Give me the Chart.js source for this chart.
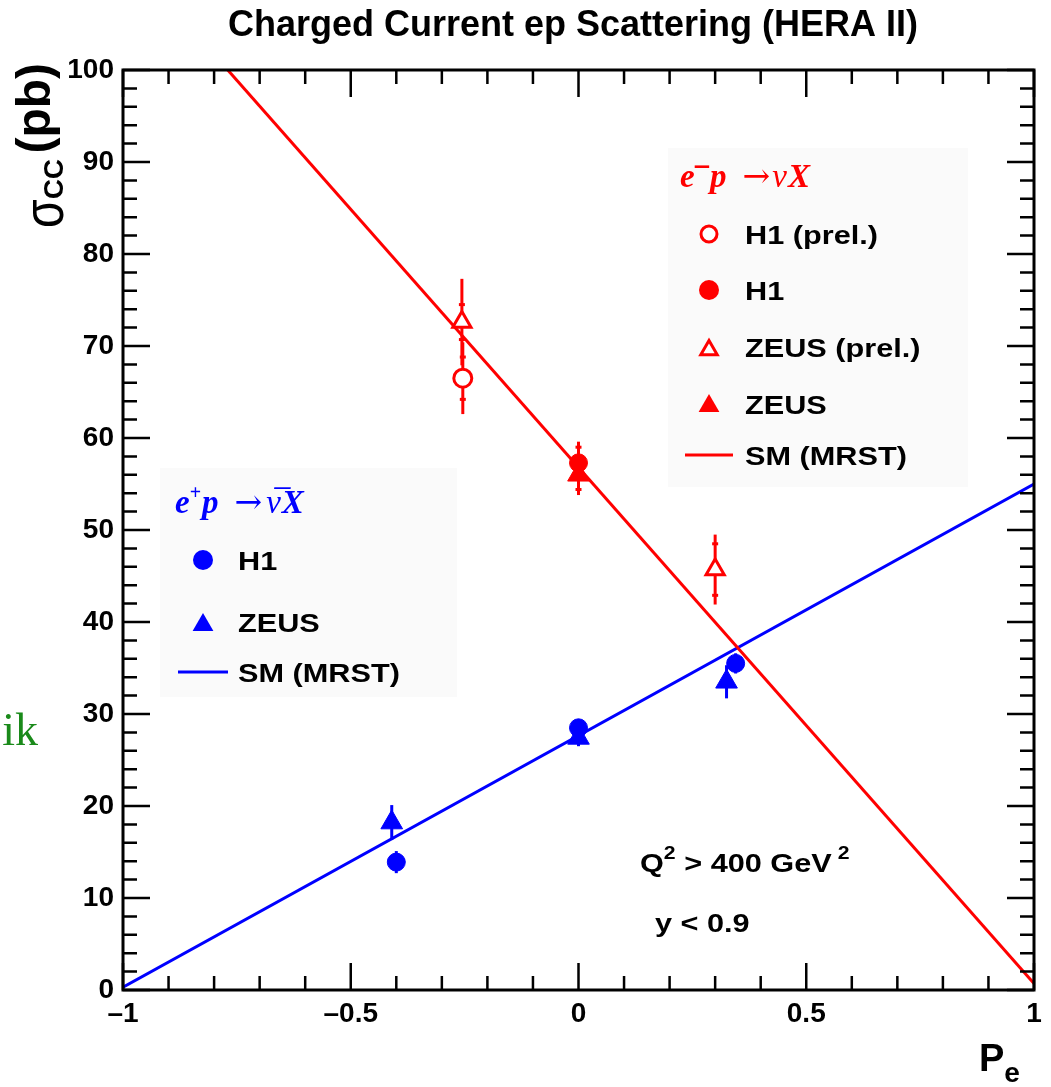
<!DOCTYPE html>
<html lang="en">
<head>
<meta charset="UTF-8">
<title>Charged Current ep Scattering (HERA II)</title>
<script src="https://cdn.jsdelivr.net/npm/chart.js"></script>
<style>
    body { margin: 0; background: #fff; }
    canvas { display: block; }
</style>
</head>
<body>
<canvas id="ccChart" width="1051" height="1087"></canvas>
<script>
    // e- p -> nu X  (red)
    const emH1PrelX = [-0.254];
    const emH1PrelY = [66.5];
    const emH1PrelErr = [3.9];
    const emH1PrelStat = [2.3];

    const emH1X = [0.0];
    const emH1Y = [57.3];
    const emH1Err = [2.3];
    const emH1Stat = [1.7];

    const emZeusPrelX = [-0.256, 0.30];
    const emZeusPrelY = [72.6, 45.7];
    const emZeusPrelErr = [4.7, 3.8];
    const emZeusPrelStat = [1.9, 2.8];

    const emZeusX = [0.0];
    const emZeusY = [56.0];
    const emZeusErr = [2.2];
    const emZeusStat = [1.6];

    const emSmX = [-0.77, 1.0];
    const emSmY = [100.0, 0.7];

    // e+ p -> nubar X  (blue)
    const epH1X = [-0.40, 0.0, 0.345];
    const epH1Y = [13.9, 28.5, 35.5];
    const epH1Err = [1.2, 0.9, 1.1];

    const epZeusX = [-0.41, 0.0, 0.325];
    const epZeusY = [18.2, 27.4, 33.5];
    const epZeusErr = [1.9, 0.9, 1.8];

    const epSmX = [-1.0, 1.0];
    const epSmY = [0.3, 55.0];

    const xTicks = [-1, -0.5, 0, 0.5, 1];
    const yTicks = [0, 10, 20, 30, 40, 50, 60, 70, 80, 90, 100];

    const RED = '#ff0000';
    const BLUE = '#0000ff';
    const SANS = '"Liberation Sans", Arial, sans-serif';
    const SERIF = '"Liberation Serif", "Times New Roman", serif';

    function pts(xs, ys) {
        return xs.map((x, i) => ({x: x, y: ys[i]}));
    }

    function markerSet(label, xs, ys, errs, stats, color, style, open) {
        let r = style === 'triangle' ? (open ? 10.5 : 12.5) : 9;
        return {
            label: label,
            data: pts(xs, ys),
            errs: errs,
            stats: stats || null,
            showLine: false,
            pointStyle: style,
            pointRadius: r,
            pointBorderWidth: open ? 3 : 1,
            pointBorderColor: color,
            pointBackgroundColor: open ? '#ffffff' : color,
            borderColor: color,
            backgroundColor: open ? '#ffffff' : color
        };
    }

    function lineSet(label, xs, ys, color) {
        return {
            label: label,
            data: pts(xs, ys),
            showLine: true,
            pointRadius: 0,
            borderColor: color,
            borderWidth: 3,
            fill: false
        };
    }

    function drawMarker(ctx, x, y, style, r, color, open) {
        ctx.save();
        ctx.beginPath();
        if (style === 'circle') {
            ctx.arc(x, y, r, 0, Math.PI * 2);
        } else {
            for (let k = 0; k < 3; k++) {
                const a = k * 2 * Math.PI / 3;
                const px = x + Math.sin(a) * r, py = y - Math.cos(a) * r;
                if (k === 0) ctx.moveTo(px, py); else ctx.lineTo(px, py);
            }
            ctx.closePath();
        }
        if (open) {
            ctx.fillStyle = '#fff';
            ctx.fill();
            ctx.lineWidth = 3;
            ctx.strokeStyle = color;
            ctx.stroke();
        } else {
            ctx.fillStyle = color;
            ctx.fill();
        }
        ctx.restore();
    }

    // draws a run of text pieces, each with its own font / offset; sx stretches horizontally
    function richText(ctx, x, y, parts, color, sx) {
        ctx.save();
        ctx.translate(x, y);
        ctx.scale(sx || 1, 1);
        ctx.fillStyle = color;
        ctx.textBaseline = 'alphabetic';
        ctx.textAlign = 'left';
        let cx = 0;
        parts.forEach(p => {
            ctx.font = p.font;
            cx += p.dx || 0;
            ctx.save();
            ctx.translate(cx, p.dy || 0);
            ctx.scale(p.sx || 1, 1);
            ctx.fillText(p.t, 0, 0);
            ctx.restore();
            cx += ctx.measureText(p.t).width * (p.sx || 1);
        });
        ctx.restore();
    }

    const errorBars = {
        id: 'errorBars',
        beforeDatasetsDraw(chart) {
            const ctx = chart.ctx;
            const xs = chart.scales.x, ys = chart.scales.y;
            ctx.save();
            chart.data.datasets.forEach(ds => {
                if (!ds.errs) return;
                ctx.strokeStyle = ds.borderColor;
                ctx.lineWidth = 3;
                ds.data.forEach((p, i) => {
                    const px = xs.getPixelForValue(p.x);
                    const lo = ys.getPixelForValue(p.y - ds.errs[i]);
                    const hi = ys.getPixelForValue(p.y + ds.errs[i]);
                    ctx.beginPath();
                    ctx.moveTo(px, lo);
                    ctx.lineTo(px, hi);
                    ctx.stroke();
                    if (ds.stats) {
                        [p.y - ds.stats[i], p.y + ds.stats[i]].forEach(v => {
                            const py = ys.getPixelForValue(v);
                            ctx.beginPath();
                            ctx.moveTo(px - 3, py);
                            ctx.lineTo(px + 3, py);
                            ctx.stroke();
                        });
                    }
                });
            });
            ctx.restore();
        }
    };

    const decorations = {
        id: 'decorations',
        beforeDraw(chart) {
            const ctx = chart.ctx;
            ctx.save();
            ctx.fillStyle = '#fafafa';
            ctx.fillRect(668, 148, 300, 339);
            ctx.fillRect(160, 468, 297, 229);
            ctx.restore();
        },
        afterDraw(chart) {
            const ctx = chart.ctx;
            const xs = chart.scales.x, ys = chart.scales.y;
            const a = chart.chartArea;
            ctx.save();

            // frame
            ctx.strokeStyle = '#000';
            ctx.lineWidth = 3;
            ctx.strokeRect(a.left, a.top, a.right - a.left, a.bottom - a.top);

            // inward ticks on all four sides
            ctx.lineWidth = 2.5;
            for (let i = 0; i <= 20; i++) {
                const v = -1 + i * 0.1;
                const px = xs.getPixelForValue(v);
                const len = i % 5 === 0 ? 27 : 14;
                ctx.beginPath();
                ctx.moveTo(px, a.bottom); ctx.lineTo(px, a.bottom - len);
                ctx.moveTo(px, a.top); ctx.lineTo(px, a.top + len);
                ctx.stroke();
            }
            for (let i = 0; i <= 50; i++) {
                const v = i * 2;
                const py = ys.getPixelForValue(v);
                const len = i % 5 === 0 ? 27 : 14;
                ctx.beginPath();
                ctx.moveTo(a.left, py); ctx.lineTo(a.left + len, py);
                ctx.moveTo(a.right, py); ctx.lineTo(a.right - len, py);
                ctx.stroke();
            }

            // title
            ctx.fillStyle = '#000';
            ctx.font = 'bold 36px ' + SANS;
            ctx.textAlign = 'center';
            ctx.textBaseline = 'middle';
            ctx.fillText('Charged Current ep Scattering (HERA II)', 573, 26);

            // x axis title
            richText(ctx, 979, 1071, [
                {t: 'P', font: 'bold 38px ' + SANS},
                {t: 'e', font: 'bold 28px ' + SANS, dy: 11}
            ], '#000');

            // y axis title (rotated)
            ctx.save();
            ctx.translate(63, 228);
            ctx.rotate(-Math.PI / 2);
            richText(ctx, 0, 0, [
                {t: 'σ', font: '58px ' + SANS, sx: 0.8},
                {t: 'CC', font: 'bold 28px ' + SANS},
                {t: ' (pb)', font: 'bold 48px ' + SANS, dy: -13, dx: -8}
            ], '#000');
            ctx.restore();

            // red legend
            richText(ctx, 680, 187, [
                {t: 'e', font: 'italic bold 33px ' + SERIF},
                {t: '\u2012', font: 'bold 26px ' + SANS, dy: -13, dx: 0},
                {t: 'p', font: 'italic bold 33px ' + SERIF, dx: 1},
                {t: '\u2192', font: '33px "DejaVu Serif", ' + SERIF, dx: 16},
                {t: '\u03BD', font: 'italic 33px ' + SERIF, dx: 2},
                {t: 'X', font: 'italic bold 33px ' + SERIF, dx: 1}
            ], RED);
            const lab = 'bold 26px ' + SANS;
            const LS = 1.18;
            drawMarker(ctx, 709, 234, 'circle', 8, RED, true);
            richText(ctx, 745, 244, [{t: 'H1 (prel.)', font: lab}], '#000', LS);
            drawMarker(ctx, 709, 290, 'circle', 10, RED, false);
            richText(ctx, 745, 300, [{t: 'H1', font: lab}], '#000', LS);
            drawMarker(ctx, 709, 350, 'triangle', 9.5, RED, true);
            richText(ctx, 745, 357, [{t: 'ZEUS (prel.)', font: lab}], '#000', LS);
            drawMarker(ctx, 709, 406, 'triangle', 12, RED, false);
            richText(ctx, 745, 414, [{t: 'ZEUS', font: lab}], '#000', LS);
            ctx.strokeStyle = RED; ctx.lineWidth = 3;
            ctx.beginPath(); ctx.moveTo(685, 455); ctx.lineTo(733, 455); ctx.stroke();
            richText(ctx, 745, 465, [{t: 'SM (MRST)', font: lab}], '#000', LS);

            // blue legend
            richText(ctx, 175, 513, [
                {t: 'e', font: 'italic bold 33px ' + SERIF},
                {t: '+', font: 'bold 20px ' + SERIF, dy: -14},
                {t: 'p', font: 'italic bold 33px ' + SERIF, dx: 1},
                {t: '\u2192', font: '33px "DejaVu Serif", ' + SERIF, dx: 16},
                {t: '\u03BD\u0305', font: 'italic 33px ' + SERIF, dx: 4},
                {t: 'X', font: 'italic bold 33px ' + SERIF, dx: 1}
            ], BLUE);
            drawMarker(ctx, 203, 560, 'circle', 10, BLUE, false);
            richText(ctx, 238, 570, [{t: 'H1', font: lab}], '#000', LS);
            drawMarker(ctx, 203, 625, 'triangle', 12, BLUE, false);
            richText(ctx, 238, 632, [{t: 'ZEUS', font: lab}], '#000', LS);
            ctx.strokeStyle = BLUE; ctx.lineWidth = 3;
            ctx.beginPath(); ctx.moveTo(178, 672); ctx.lineTo(228, 672); ctx.stroke();
            richText(ctx, 238, 682, [{t: 'SM (MRST)', font: lab}], '#000', LS);

            // cut conditions
            richText(ctx, 640, 872, [
                {t: 'Q', font: lab},
                {t: '2', font: 'bold 18px ' + SANS, dy: -13},
                {t: ' > 400 GeV', font: lab},
                {t: ' 2', font: 'bold 18px ' + SANS, dy: -13}
            ], '#000', LS);
            richText(ctx, 655, 932, [{t: 'y < 0.9', font: lab}], '#000', LS);

            // stray text at the left edge
            ctx.fillStyle = '#1a8a1a';
            ctx.font = '46px ' + SERIF;
            ctx.textAlign = 'right';
            ctx.textBaseline = 'alphabetic';
            ctx.fillText('ik', 38, 745);

            ctx.restore();
        }
    };

    const tickFont = {family: SANS, size: 28, weight: 'bold'};

    new Chart(document.getElementById('ccChart'), {
        type: 'scatter',
        data: {
            datasets: [
                markerSet('H1 (prel.)', emH1PrelX, emH1PrelY, emH1PrelErr, emH1PrelStat, RED, 'circle', true),
                markerSet('H1', emH1X, emH1Y, emH1Err, emH1Stat, RED, 'circle', false),
                markerSet('ZEUS (prel.)', emZeusPrelX, emZeusPrelY, emZeusPrelErr, emZeusPrelStat, RED, 'triangle', true),
                markerSet('ZEUS', emZeusX, emZeusY, emZeusErr, emZeusStat, RED, 'triangle', false),
                markerSet('H1 e+p', epH1X, epH1Y, epH1Err, null, BLUE, 'circle', false),
                markerSet('ZEUS e+p', epZeusX, epZeusY, epZeusErr, null, BLUE, 'triangle', false),
                lineSet('SM (MRST) e-p', emSmX, emSmY, RED),
                lineSet('SM (MRST) e+p', epSmX, epSmY, BLUE)
            ]
        },
        options: {
            responsive: false,
            animation: false,
            devicePixelRatio: 1,
            layout: {padding: {top: 70, right: 17, left: 0, bottom: 0}},
            plugins: {
                legend: {display: false},
                tooltip: {enabled: false}
            },
            scales: {
                x: {
                    type: 'linear',
                    min: -1,
                    max: 1,
                    afterBuildTicks: s => { s.ticks = xTicks.map(v => ({value: v})); },
                    afterFit: s => { s.height = 97; },
                    grid: {display: false, drawTicks: false},
                    border: {display: false},
                    ticks: {
                        font: tickFont,
                        color: '#000',
                        padding: 7,
                        maxRotation: 0,
                        callback: v => v < 0 ? '\u2013' + Math.abs(v) : String(v)
                    }
                },
                y: {
                    min: 0,
                    max: 100,
                    afterBuildTicks: s => { s.ticks = yTicks.map(v => ({value: v})); },
                    afterFit: s => { s.width = 123; },
                    grid: {display: false, drawTicks: false},
                    border: {display: false},
                    ticks: {
                        font: tickFont,
                        color: '#000',
                        padding: 9
                    }
                }
            }
        },
        plugins: [errorBars, decorations]
    });
</script>
</body>
</html>
